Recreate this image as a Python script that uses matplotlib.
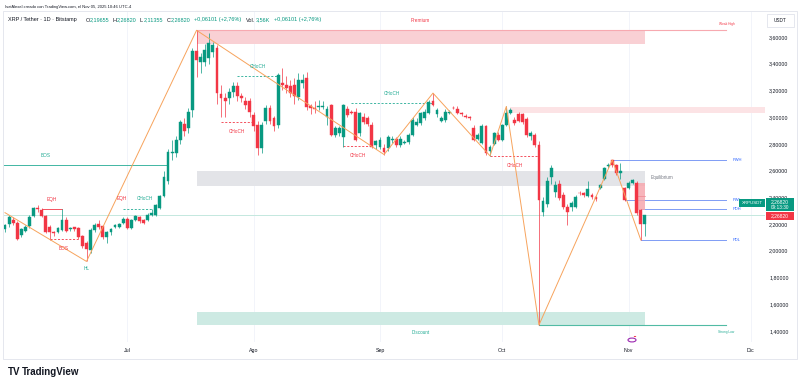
#!/usr/bin/env python3
"""
XRP / Tether daily chart (TradingView style) with SMC drawings
"""

import datetime as dt
import matplotlib
matplotlib.use("Agg")
import matplotlib.pyplot as plt
from matplotlib.patches import Rectangle, Circle

plt.rcParams['font.family'] = ['Liberation Sans', 'DejaVu Sans']

START = dt.date(2025, 6, 1)

# daily candles, Jun 1 -> Nov 5 2025
opens = [2.16, 2.20, 2.23, 2.21, 2.12, 2.15, 2.185, 2.26, 2.32, 2.305,
         2.26, 2.18, 2.14, 2.14, 2.155, 2.23, 2.16, 2.175, 2.17, 2.11,
         2.06, 2.006, 2.155, 2.20, 2.185, 2.10, 2.14, 2.18, 2.18, 2.21,
         2.24, 2.17, 2.23, 2.25, 2.23, 2.23, 2.27, 2.27, 2.32, 2.41,
         2.52, 2.73, 2.73, 2.83, 2.95, 2.92, 3.05, 3.495, 3.415, 3.415,
         3.44, 3.49, 3.52, 3.17, 3.14, 3.14, 3.19, 3.23, 3.16, 3.12,
         3.12, 3.016, 2.94, 2.77, 2.97, 3.07, 2.99, 2.94, 3.255, 3.24,
         3.23, 3.24, 3.15, 3.255, 3.29, 3.08, 3.07, 3.075, 3.078, 3.00,
         3.09, 2.87, 2.88, 2.855, 3.06, 3.04, 3.04, 2.88, 3.00, 2.99,
         2.94, 2.79, 2.78, 2.77, 2.77, 2.83, 2.84, 2.79, 2.805, 2.815,
         2.87, 2.94, 2.955, 2.99, 3.03, 3.12, 3.02, 2.97, 2.98, 3.03,
         3.07, 3.06, 3.03, 3.01, 3.00, 2.92, 2.84, 2.81, 2.93, 2.75,
         2.80, 2.87, 2.83, 2.94, 3.03, 2.98, 3.02, 3.02, 2.985, 2.86,
         2.865, 2.79, 2.29, 2.35, 2.555, 2.44, 2.50, 2.42, 2.33, 2.33,
         2.33, 2.435, 2.43, 2.41, 2.42, 2.40, 2.47, 2.54, 2.635, 2.68,
         2.64, 2.58, 2.47, 2.47, 2.51, 2.51, 2.305, 2.19655]
highs = [2.20, 2.27, 2.25, 2.22, 2.17, 2.19, 2.27, 2.33, 2.34, 2.32,
         2.27, 2.19, 2.15, 2.18, 2.31, 2.25, 2.18, 2.18, 2.18, 2.12,
         2.07, 2.17, 2.21, 2.23, 2.19, 2.15, 2.17, 2.20, 2.21, 2.25,
         2.25, 2.24, 2.27, 2.26, 2.24, 2.28, 2.31, 2.35, 2.42, 2.60,
         2.76, 2.83, 2.86, 2.98, 2.99, 3.07, 3.52, 3.65, 3.48, 3.55,
         3.63, 3.56, 3.54, 3.24, 3.18, 3.22, 3.26, 3.26, 3.18, 3.15,
         3.14, 3.04, 2.97, 2.96, 3.09, 3.09, 3.01, 3.33, 3.37, 3.31,
         3.28, 3.29, 3.33, 3.32, 3.34, 3.10, 3.12, 3.13, 3.12, 3.08,
         3.10, 2.93, 2.93, 3.10, 3.08, 3.05, 3.07, 3.04, 3.03, 3.01,
         2.96, 2.83, 2.85, 2.80, 2.87, 2.86, 2.85, 2.86, 2.83, 2.88,
         3.00, 2.99, 3.04, 3.06, 3.13, 3.18, 3.07, 3.01, 3.06, 3.05,
         3.08, 3.08, 3.04, 3.02, 3.01, 2.94, 2.88, 2.95, 2.94, 2.79,
         2.89, 2.89, 2.95, 3.08, 3.07, 3.00, 3.04, 3.03, 3.00, 2.90,
         2.88, 2.82, 2.40, 2.55, 2.64, 2.52, 2.53, 2.44, 2.35, 2.37,
         2.42, 2.45, 2.44, 2.52, 2.43, 2.41, 2.50, 2.63, 2.66, 2.68,
         2.65, 2.66, 2.48, 2.52, 2.54, 2.52, 2.31, 2.2682]
lows = [2.14, 2.18, 2.19, 2.08, 2.10, 2.14, 2.17, 2.25, 2.29, 2.25,
        2.13, 2.08, 2.11, 2.13, 2.15, 2.14, 2.15, 2.15, 2.09, 2.02,
        1.92, 1.98, 2.14, 2.16, 2.09, 2.06, 2.12, 2.17, 2.17, 2.20,
        2.16, 2.16, 2.22, 2.21, 2.20, 2.22, 2.26, 2.26, 2.31, 2.40,
        2.50, 2.68, 2.70, 2.80, 2.86, 2.88, 3.00, 3.30, 3.33, 3.38,
        3.40, 3.45, 3.10, 3.00, 3.00, 3.10, 3.15, 3.12, 3.11, 3.06,
        3.00, 2.90, 2.72, 2.73, 2.95, 2.95, 2.90, 2.92, 3.20, 3.18,
        3.15, 3.10, 3.13, 3.22, 3.05, 3.02, 3.03, 3.05, 3.06, 2.94,
        2.86, 2.85, 2.86, 2.78, 3.00, 3.02, 2.82, 2.86, 2.95, 2.93,
        2.77, 2.76, 2.76, 2.72, 2.75, 2.81, 2.78, 2.78, 2.80, 2.80,
        2.86, 2.93, 2.94, 2.98, 3.02, 3.08, 3.00, 2.96, 2.96, 3.02,
        3.06, 3.02, 3.01, 2.99, 2.98, 2.82, 2.83, 2.80, 2.72, 2.71,
        2.79, 2.82, 2.82, 2.93, 3.02, 2.94, 2.96, 2.95, 2.85, 2.83,
        2.78, 1.444, 2.26, 2.33, 2.50, 2.40, 2.38, 2.31, 2.19, 2.30,
        2.32, 2.42, 2.40, 2.40, 2.39, 2.37, 2.46, 2.53, 2.62, 2.63,
        2.57, 2.54, 2.37, 2.46, 2.50, 2.27, 2.08, 2.11355]
closes = [2.19, 2.255, 2.21, 2.09, 2.16, 2.18, 2.255, 2.32, 2.31, 2.26,
          2.14, 2.14, 2.13, 2.17, 2.23, 2.15, 2.17, 2.165, 2.10, 2.035,
          2.01, 2.155, 2.19, 2.18, 2.10, 2.14, 2.16, 2.19, 2.20, 2.24,
          2.17, 2.23, 2.26, 2.22, 2.21, 2.27, 2.28, 2.34, 2.41, 2.55,
          2.74, 2.74, 2.83, 2.96, 2.90, 3.04, 3.495, 3.43, 3.45, 3.50,
          3.555, 3.54, 3.18, 3.14, 3.12, 3.19, 3.23, 3.16, 3.14, 3.09,
          3.04, 2.93, 2.77, 2.94, 3.07, 2.97, 2.93, 3.315, 3.24, 3.215,
          3.18, 3.155, 3.28, 3.28, 3.075, 3.07, 3.06, 3.08, 3.082, 3.06,
          2.87, 2.92, 2.92, 3.09, 3.015, 3.03, 2.83, 3.03, 2.96, 2.95,
          2.78, 2.82, 2.83, 2.74, 2.85, 2.84, 2.79, 2.84, 2.815, 2.865,
          2.98, 2.96, 3.03, 3.04, 3.115, 3.09, 3.05, 2.99, 3.04, 3.035,
          3.065, 3.03, 3.02, 3.00, 2.99, 2.83, 2.87, 2.93, 2.73, 2.78,
          2.88, 2.83, 2.94, 3.03, 3.05, 2.955, 2.97, 2.96, 2.87, 2.88,
          2.79, 2.38, 2.37, 2.52, 2.62, 2.49, 2.395, 2.33, 2.29, 2.36,
          2.40, 2.43, 2.42, 2.46, 2.40, 2.39, 2.49, 2.62, 2.645, 2.64,
          2.58, 2.60, 2.38, 2.51, 2.53, 2.28, 2.20, 2.2682]

month_labels = ['Jul', 'Ago', 'Sep', 'Oct', 'Nov', 'Dic']
month_starts = ['2025-07-01', '2025-08-01', '2025-09-01', '2025-10-01', '2025-11-01', '2025-12-01']
price_ticks = [1.4, 1.6, 1.8, 2.0, 2.2, 2.4, 2.6, 2.8, 3.0, 3.2, 3.4, 3.6]

# swing zigzag
swing_dates = ['2025-06-01', '2025-06-21', '2025-07-18', '2025-09-02', '2025-09-14',
               '2025-09-28', '2025-10-02', '2025-10-10', '2025-10-28', '2025-11-04']
swing_prices = [2.285, 1.92, 3.65, 2.72, 3.18, 2.71, 3.08, 1.444, 2.68, 2.08]

# premium / equilibrium / discount zones
zone_start, zone_end, level_end = '2025-07-18', '2025-11-05', '2025-11-25'
premium = (3.545, 3.65)
equilibrium = (2.487, 2.597)
discount = (1.444, 1.545)
ob_start, ob_zone = '2025-10-03', (3.029, 3.078)
fvg_start, fvg_end, fvg_zone = '2025-11-03', '2025-11-05', (2.305, 2.51)

# structure lines: label, start, end, price, colour, dashed, label side
structure = [
    ('BOS', '2025-05-12', '2025-07-11', 2.642, 'teal', False, 'up'),
    ('EQH', '2025-06-10', '2025-06-15', 2.31, 'red', False, 'up'),
    ('BOS', '2025-06-12', '2025-06-19', 2.086, 'red', True, 'down'),
    ('', '2025-06-30', '2025-07-07', 2.31, 'teal', True, 'up'),
    ('CHoCH', '2025-07-28', '2025-08-07', 3.31, 'teal', True, 'up'),
    ('CHoCH', '2025-07-24', '2025-08-01', 2.96, 'red', True, 'down'),
    ('CHoCH', '2025-08-25', '2025-09-14', 3.104, 'teal', True, 'up'),
    ('CHoCH', '2025-08-23', '2025-08-30', 2.784, 'red', True, 'down'),
    ('CHoCH', '2025-09-28', '2025-10-10', 2.709, 'red', True, 'down'),
]

# previous week / day levels
levels = [('PWH', '2025-10-28', 2.68), ('PWL', '2025-10-31', 2.38),
          ('PDH', '2025-11-04', 2.31), ('PDL', '2025-11-04', 2.08)]

last_price = 2.2682

W, H = 800, 386
GREEN, RED, BLUE, DARK, GREY = '#089981', '#f23645', '#2962ff', '#131722', '#787b86'
TEAL = '#22ab94'
COL = {'teal': TEAL, 'red': RED}


def day(s):
    return (dt.date.fromisoformat(s) - START).days


def fx(x):
    return x / W


def fy(y):
    return 1 - y / H


def px_rect(fig, x0, y0, x1, y1, **kw):
    fig.add_artist(Rectangle((fx(x0), fy(y1)), (x1 - x0) / W, (y1 - y0) / H,
                             transform=fig.transFigure, **kw))


fig = plt.figure(figsize=(W / 100, H / 100), dpi=100)
fig.patch.set_facecolor('white')

# chart frame
px_rect(fig, 3, 11, 797, 359, fill=False, ec='#e0e3eb', lw=0.6)

ax = fig.add_axes([fx(4), fy(342), (765 - 4) / W, (342 - 12) / H])
ax.set_xlim(-0.245, 186.46)
ax.set_ylim(1.317, 3.787)
for s in ax.spines.values():
    s.set_visible(False)

# vertical month grid
ax.set_xticks([day(d) for d in month_starts])
ax.set_xticklabels(month_labels)
ax.tick_params(axis='x', length=0, labelsize=3.8, colors=DARK, pad=4)
ax.grid(axis='x', color='#f0f3fa', lw=0.6)
ax.set_axisbelow(True)

ax.yaxis.tick_right()
ax.set_yticks(price_ticks)
ax.set_yticklabels([f'{p:.5f}'.replace('.', ',') for p in price_ticks])
ax.tick_params(axis='y', length=0, labelsize=3.8, colors=DARK, pad=3)

# zones
z0, z1, lend = day(zone_start), day(zone_end), day(level_end)
ax.add_patch(Rectangle((z0, premium[0]), z1 - z0, premium[1] - premium[0],
                       fc='#f9d0d4', ec='none', zorder=1))
ax.plot([z0, lend], [premium[1]] * 2, color='#f7a9b0', lw=0.8, zorder=1)
ax.add_patch(Rectangle((z0, equilibrium[0]), z1 - z0, equilibrium[1] - equilibrium[0],
                       fc='#e3e4e8', ec='none', zorder=1))
ax.add_patch(Rectangle((z0, discount[0]), z1 - z0, discount[1] - discount[0],
                       fc='#cdeae3', ec='none', zorder=1))
ax.plot([day(swing_dates[7]), lend], [discount[0]] * 2, color='#52bba4', lw=0.8, zorder=1)
ax.add_patch(Rectangle((day(ob_start), ob_zone[0]), 200, ob_zone[1] - ob_zone[0],
                       fc='#fce3e5', ec='none', zorder=1))

ax.text((z0 + z1) / 2, premium[1] + 0.055, 'Premium', color=RED, fontsize=3.4,
        ha='center', va='bottom', zorder=6)
ax.text(lend, premium[1] + 0.035, 'Weak High', color=RED, fontsize=2.3, ha='center', va='bottom')
ax.text(z1 + 1.5, sum(equilibrium) / 2 + 0.01, 'Equilibrium', color=GREY, fontsize=3.3,
        ha='left', va='center')
ax.text((z0 + z1) / 2, discount[0] - 0.035, 'Discount', color=TEAL, fontsize=3.3,
        ha='center', va='top')
ax.text(lend, discount[0] - 0.035, 'Strong Low', color=TEAL, fontsize=2.3,
        ha='center', va='top')

# current price line
ax.axhline(last_price, color='#c4e8df', lw=0.7, zorder=1)

# structure lines + labels
for label, s, e, p, c, dashed, side in structure:
    ls = (0, (2.5, 2)) if dashed else '-'
    ax.plot([day(s), day(e)], [p, p], color=COL[c], lw=0.6, ls=ls, zorder=2)
    if label:
        off = 6.8 if side == 'up' else -6.8
        ax.annotate(label, ((day(s) + day(e)) / 2, p), xytext=(0, off), textcoords='offset points',
                    color=COL[c], fontsize=3.4, ha='center', va='center', zorder=6)
# EQH and CHoCH share the same level in early July
ax.annotate('EQH', (day('2025-06-30'), 2.31), xytext=(-1, 7.5), textcoords='offset points',
            color=RED, fontsize=3.4, ha='center', va='center', zorder=6)
ax.annotate('CHoCH', (day('2025-07-05'), 2.31), xytext=(1, 8), textcoords='offset points',
            color=TEAL, fontsize=3.4, ha='center', va='center', zorder=6)
ax.annotate('HL', (day(swing_dates[1]), swing_prices[1]), xytext=(0, -5.2), textcoords='offset points',
            color=TEAL, fontsize=3.4, ha='center', va='center', zorder=6)

# previous week / day levels
for label, s, p in levels:
    ax.plot([day(s), lend], [p, p], color='#7f9cf5', lw=0.7, zorder=2)
    ax.text(lend + 1.6, p, label, color=BLUE, fontsize=2.9, ha='left', va='center', zorder=6)

# fvg box
f0, f1 = day(fvg_start) - 0.4, day(fvg_end)
ax.add_patch(Rectangle((f0, fvg_zone[0]), f1 - f0, fvg_zone[1] - fvg_zone[0],
                       fc='#f6a7ae', ec='none', alpha=0.85, zorder=2))
ax.plot([f0, f1], [sum(fvg_zone) / 2] * 2, color='#ef8791', lw=0.5, zorder=2)

# candles
xs = list(range(len(opens)))
cols = [GREEN if c >= o else RED for o, c in zip(opens, closes)]
ax.vlines(xs, lows, highs, colors=cols, lw=0.5, zorder=3)
ax.bar(xs, [abs(c - o) for o, c in zip(opens, closes)], width=0.7,
       bottom=[min(o, c) for o, c in zip(opens, closes)],
       color=cols, edgecolor=cols, linewidth=0.3, zorder=4)

# swing zigzag
ax.plot([day(d) for d in swing_dates], swing_prices, color='#f7a35c', lw=0.7, zorder=5)

# header
fig.text(fx(5), fy(7), 'IsaiAlexel creado con TradingView.com, el Nov 05, 2025 10:46 UTC-4',
         fontsize=3.0, color=DARK, va='center')
header = [(8, 'XRP / Tether · 1D · Bitstamp', DARK),
          (85.5, 'O', DARK), (89.5, '2,19655', GREEN),
          (112, 'H', DARK), (116.5, '2,26820', GREEN),
          (140, 'L', DARK), (143.5, '2,11355', GREEN),
          (166.5, 'C', DARK), (170.5, '2,26820', GREEN),
          (194, '+0,06101 (+2,76%)', GREEN),
          (246, 'Vol.', DARK), (256, '3,56K', GREEN),
          (274, '+0,06101 (+2,76%)', GREEN)]
for x, t, c in header:
    fig.text(fx(x), fy(20), t, fontsize=4.0, color=c, va='center')

# currency box
px_rect(fig, 767, 14, 794, 27, fc='white', ec='#e0e3eb', lw=0.6)
fig.text(fx(780.5), fy(20.5), 'USDT', fontsize=3.4, color=DARK, ha='center', va='center')

# price tags
px_rect(fig, 739, 199, 765, 207, fc=GREEN, ec='none')
fig.text(fx(752), fy(203), 'XRPUSDT', fontsize=3.2, color='white', ha='center', va='center')
px_rect(fig, 766, 197.5, 794, 211, fc=GREEN, ec='none')
fig.text(fx(780), fy(201.5), '2,26820', fontsize=3.6, color='white', ha='center', va='center')
fig.text(fx(780), fy(207.5), '09:13:30', fontsize=3.4, color='white', ha='center', va='center')
px_rect(fig, 766, 212, 794, 220, fc=RED, ec='none')
fig.text(fx(780), fy(216), '2,26820', fontsize=3.6, color='white', ha='center', va='center')

# event icon near Nov
fig.add_artist(Circle((fx(632), fy(340)), 4 / W, transform=fig.transFigure,
                      fill=False, ec='#9c27b0', lw=0.8))
fig.add_artist(Circle((fx(635), fy(336.5)), 1.2 / W, transform=fig.transFigure,
                      fc=RED, ec='none'))

# logo
fig.text(fx(8), fy(372), 'TV', fontsize=7, fontweight='heavy', color=DARK, va='center')
fig.text(fx(22), fy(372), 'TradingView', fontsize=7, fontweight='bold', color=DARK, va='center')

fig.savefig('out.png', dpi=100)
